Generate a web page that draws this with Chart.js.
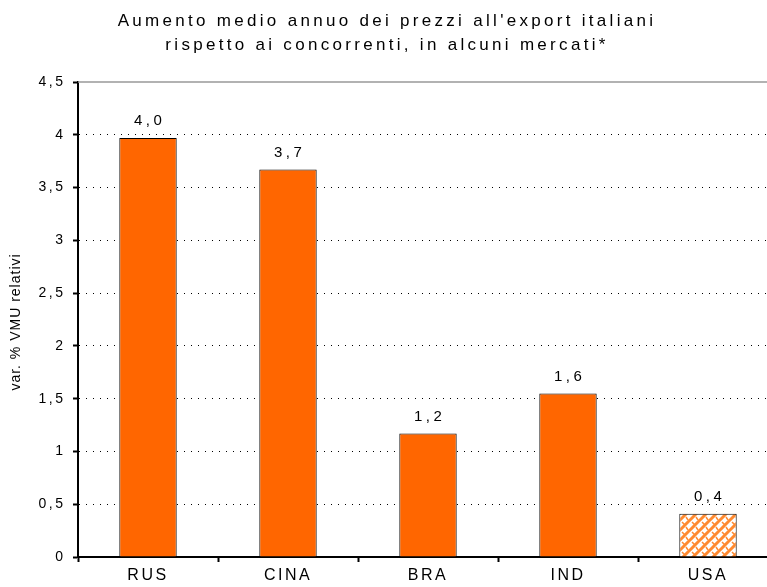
<!DOCTYPE html>
<html>
<head>
<meta charset="utf-8">
<script src="https://cdn.jsdelivr.net/npm/chart.js@4"></script>
<style>
  html, body { margin: 0; padding: 0; background: #fff; }
  #wrap { width: 767px; height: 587px; overflow: hidden; }
</style>
</head>
<body>
<div id="wrap"><canvas id="chart" width="790" height="587"></canvas></div>
<script>
const categories = ['RUS', 'CINA', 'BRA', 'IND', 'USA'];
const values = [3.97, 3.67, 1.17, 1.55, 0.41];
const valueLabels = ['4,0', '3,7', '1,2', '1,6', '0,4'];
const yTicks = [0, 0.5, 1, 1.5, 2, 2.5, 3, 3.5, 4, 4.5];
const titleLines = ["Aumento medio annuo dei prezzi all'export italiani", 'rispetto ai concorrenti, in alcuni mercati*'];
const yTitle = 'var. % VMU relativi';

const FONT = '"Liberation Sans", Arial, sans-serif';

// hatch used for the USA bar
function makePattern() {
  const c = document.createElement('canvas');
  c.width = 10;
  c.height = 10;
  const p = c.getContext('2d');
  p.fillStyle = '#fff';
  p.fillRect(0, 0, 10, 10);
  p.strokeStyle = '#ff8a30';
  p.lineWidth = 3;
  p.beginPath();
  p.moveTo(-2, 12); p.lineTo(12, -2);
  p.moveTo(-2, 2); p.lineTo(2, -2);
  p.moveTo(8, 12); p.lineTo(12, 8);
  p.stroke();
  p.lineWidth = 1.5;
  p.beginPath();
  p.moveTo(2, 2); p.lineTo(5, 5);
  p.moveTo(6, 7); p.lineTo(8, 10);
  p.stroke();
  return p.createPattern(c, 'repeat');
}

const ctx = document.getElementById('chart').getContext('2d');
const usaPattern = makePattern();
const barColors = categories.map((c) => (c === 'USA' ? usaPattern : '#ff6600'));

const textPlugin = {
  id: 'textPlugin',
  beforeDraw(chart) {
    chart.ctx.letterSpacing = '2.5px';
  },
  beforeDatasetsDraw(chart) {
    const c = chart.ctx;
    const y = chart.scales.y.getPixelForValue(4.5);
    c.save();
    c.strokeStyle = '#999';
    c.lineWidth = 1.5;
    c.beginPath();
    c.moveTo(chart.chartArea.left, y);
    c.lineTo(chart.chartArea.right, y);
    c.stroke();
    c.restore();
  },
  afterDatasetsDraw(chart) {
    const c = chart.ctx;
    c.save();
    c.fillStyle = '#000';
    c.textAlign = 'center';
    c.textBaseline = 'middle';

    c.font = '15px ' + FONT;
    c.letterSpacing = '3.5px';
    chart.getDatasetMeta(0).data.forEach((bar, i) => {
      c.fillText(valueLabels[i], bar.x + 1.7, bar.y - 17);
    });

    c.font = '17px ' + FONT;
    c.letterSpacing = '3.3px';
    c.fillText(titleLines[0], 387, 21);
    c.fillText(titleLines[1], 387, 45);

    c.font = '14px ' + FONT;
    c.letterSpacing = '1px';
    c.translate(16, 322);
    c.rotate(-Math.PI / 2);
    c.fillText(yTitle, 0, 0);
    c.restore();
  },
};

new Chart(ctx, {
  type: 'bar',
  data: {
    labels: categories,
    datasets: [
      {
        data: values,
        backgroundColor: barColors,
        borderColor: '#000',
        borderWidth: 1,
        borderSkipped: 'bottom',
        barPercentage: 0.41,
        categoryPercentage: 1,
      },
    ],
  },
  options: {
    responsive: false,
    animation: false,
    plugins: {
      legend: { display: false },
      tooltip: { enabled: false },
      title: { display: false },
    },
    layout: {
      padding: { top: 82, right: 12, left: 0, bottom: 0 },
    },
    scales: {
      x: {
        afterFit(scale) {
          scale.height = 30;
        },
        grid: {
          drawOnChartArea: false,
          drawTicks: true,
          tickLength: 5,
          tickWidth: 2,
          tickColor: '#000',
        },
        border: {
          color: '#000',
          width: 2,
        },
        ticks: {
          color: '#000',
          padding: 4,
          font: { family: FONT, size: 16 },
        },
      },
      y: {
        min: 0,
        max: 4.5,
        afterFit(scale) {
          scale.width = 78;
        },
        afterBuildTicks(scale) {
          scale.ticks = yTicks.map((v) => ({ value: v }));
        },
        grid: {
          color(c) {
            const v = c.tick ? c.tick.value : null;
            return v === 0 || v === 4.5 ? 'rgba(0,0,0,0)' : '#000';
          },
          lineWidth: 1,
          tickLength: 5,
          tickWidth: 2,
          tickColor: '#000',
        },
        border: {
          color: '#000',
          width: 2,
          dash: [1, 6],
        },
        ticks: {
          color: '#000',
          padding: 7.5,
          font: { family: FONT, size: 14 },
          callback(v) {
            return String(v).replace('.', ',');
          },
        },
      },
    },
  },
  plugins: [textPlugin],
});
</script>
</body>
</html>
